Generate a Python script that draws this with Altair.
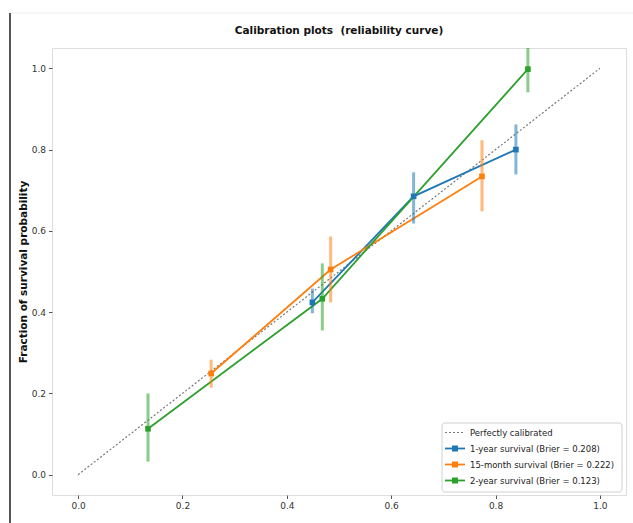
import altair as alt
import pandas as pd

# ---- data ----
series_labels = [
    "1-year survival (Brier = 0.208)",
    "15-month survival (Brier = 0.222)",
    "2-year survival (Brier = 0.123)",
]
series_colors = ["#1f77b4", "#ff7f0e", "#2ca02c"]
diag_label = "Perfectly calibrated"
title_text = "Calibration plots\u00a0 (reliability curve)"

x_1yr = [0.449, 0.643, 0.839]
y_1yr = [0.424, 0.685, 0.800]
lo_1yr = [0.397, 0.618, 0.739]
hi_1yr = [0.458, 0.744, 0.862]

x_15m = [0.255, 0.484, 0.774]
y_15m = [0.249, 0.505, 0.734]
lo_15m = [0.214, 0.424, 0.648]
hi_15m = [0.283, 0.586, 0.823]

x_2yr = [0.134, 0.468, 0.862]
y_2yr = [0.113, 0.433, 0.998]
lo_2yr = [0.032, 0.355, 0.941]
hi_2yr = [0.200, 0.520, 1.060]

diag_x = [0.0, 1.0]
diag_y = [0.0, 1.0]

tick_values = [0.0, 0.2, 0.4, 0.6, 0.8, 1.0]

# ---- tables ----
rows = []
for lab, xs, ys, los, his in zip(
    series_labels,
    [x_1yr, x_15m, x_2yr],
    [y_1yr, y_15m, y_2yr],
    [lo_1yr, lo_15m, lo_2yr],
    [hi_1yr, hi_15m, hi_2yr],
):
    for a, b, c, d in zip(xs, ys, los, his):
        rows.append({"series": lab, "x": a, "y": b, "lo": c, "hi": d})
df = pd.DataFrame(rows)
diag_df = pd.DataFrame({"x": diag_x, "y": diag_y})

legend_df = pd.DataFrame({
    "label": [diag_label] + series_labels,
    "color": ["#777777"] + series_colors,
    "row": list(range(len(series_labels) + 1)),
})

FONT = "DejaVu Sans"
W, H = 574, 447

xscale = alt.Scale(domain=[-0.05, 1.05], nice=False, zero=False)
yscale = alt.Scale(domain=[-0.05, 1.05], nice=False, zero=False)
cscale = alt.Scale(domain=series_labels, range=series_colors)

xaxis = alt.Axis(values=tick_values, format=".1f", title=None, grid=False,
                 domain=False, tickSize=3.5, tickColor="#555",
                 labelFont=FONT, labelFontSize=9, labelColor="#333",
                 labelPadding=3)
yaxis = alt.Axis(values=tick_values, format=".1f",
                 title="Fraction of survival probability", grid=False,
                 domain=False, tickSize=3.5, tickColor="#555",
                 labelFont=FONT, labelFontSize=9, labelColor="#333",
                 labelPadding=3, titleFont=FONT, titleFontSize=10.5,
                 titleFontWeight="bold", titleColor="#111",
                 titleX=-29, titleY=H / 2, titleAngle=270,
                 titleAlign="center", titleBaseline="middle")

base = alt.Chart(df)

diag = alt.Chart(diag_df).mark_line(
    color="#777777", strokeDash=[2, 2], strokeWidth=1.2
).encode(
    x=alt.X("x:Q", scale=xscale, axis=xaxis),
    y=alt.Y("y:Q", scale=yscale, axis=yaxis),
)

lines = base.mark_line(strokeWidth=1.8).encode(
    x=alt.X("x:Q", scale=xscale),
    y=alt.Y("y:Q", scale=yscale),
    color=alt.Color("series:N", scale=cscale, legend=None),
)

bars = base.mark_rule(strokeWidth=3, opacity=0.55, clip=True).encode(
    x=alt.X("x:Q", scale=xscale),
    y=alt.Y("lo:Q", scale=yscale),
    y2="hi:Q",
    color=alt.Color("series:N", scale=cscale, legend=None),
)

pts = base.mark_square(size=32, opacity=1).encode(
    x=alt.X("x:Q", scale=xscale),
    y=alt.Y("y:Q", scale=yscale),
    color=alt.Color("series:N", scale=cscale, legend=None),
)

main = alt.layer(diag, lines, bars, pts)

# ---- manual legend (bottom right, inside the plot) ----
one = pd.DataFrame({"k": [0]})
leg_box = alt.Chart(one).mark_rect(
    fill="white", stroke="#cccccc", strokeWidth=1, cornerRadius=3, opacity=0.9
).encode(
    x=alt.value(390), x2=alt.value(570), y=alt.value(375), y2=alt.value(444)
)

leg = alt.Chart(legend_df).transform_calculate(
    ly="384.5 + 16 * datum.row"
)
leg_diag = leg.transform_filter("datum.row == 0").mark_rule(
    strokeDash=[2, 2], strokeWidth=1.2
).encode(
    x=alt.value(393), x2=alt.value(411),
    y=alt.Y("ly:Q", scale=None, axis=None),
    color=alt.Color("color:N", scale=None, legend=None),
)
leg_lines = leg.transform_filter("datum.row > 0").mark_rule(
    strokeWidth=1.8
).encode(
    x=alt.value(393), x2=alt.value(413),
    y=alt.Y("ly:Q", scale=None, axis=None),
    color=alt.Color("color:N", scale=None, legend=None),
)
leg_marks = leg.transform_filter("datum.row > 0").mark_square(
    size=36, opacity=1
).encode(
    x=alt.value(403),
    y=alt.Y("ly:Q", scale=None, axis=None),
    color=alt.Color("color:N", scale=None, legend=None),
)
leg_text = leg.mark_text(
    align="left", baseline="middle", font=FONT, fontSize=8.5, color="#222"
).encode(
    x=alt.value(418),
    y=alt.Y("ly:Q", scale=None, axis=None),
    text="label:N",
)

legend_layer = alt.layer(leg_box, leg_diag, leg_lines, leg_marks, leg_text)

# chart title drawn as a text mark above the plot
title_df = pd.DataFrame({"t": [title_text]})
title_mark = alt.Chart(title_df).mark_text(
    align="center", baseline="middle", font=FONT, fontSize=10.5,
    fontWeight="bold", color="#111"
).encode(
    x=alt.value(W / 2), y=alt.value(-17), text="t:N"
)

# screenshot edge lines
edge = alt.Chart(one).mark_rule(color="#555555", strokeWidth=2).encode(
    x=alt.value(-42), y=alt.value(-35), y2=alt.value(475)
)
edge_top = alt.Chart(one).mark_rule(color="#eeeeee", strokeWidth=1).encode(
    x=alt.value(-42), x2=alt.value(581), y=alt.value(-35)
)

chart = alt.layer(edge_top, edge, title_mark, main, legend_layer).properties(
    width=W,
    height=H,
    autosize=alt.AutoSizeParams(type="none"),
    padding={"left": 52, "top": 48, "right": 7, "bottom": 28},
).configure_view(
    stroke="#777777", strokeWidth=1
).configure(background="white")

chart.save("out.html", embed_options={"renderer": "svg", "actions": False})
